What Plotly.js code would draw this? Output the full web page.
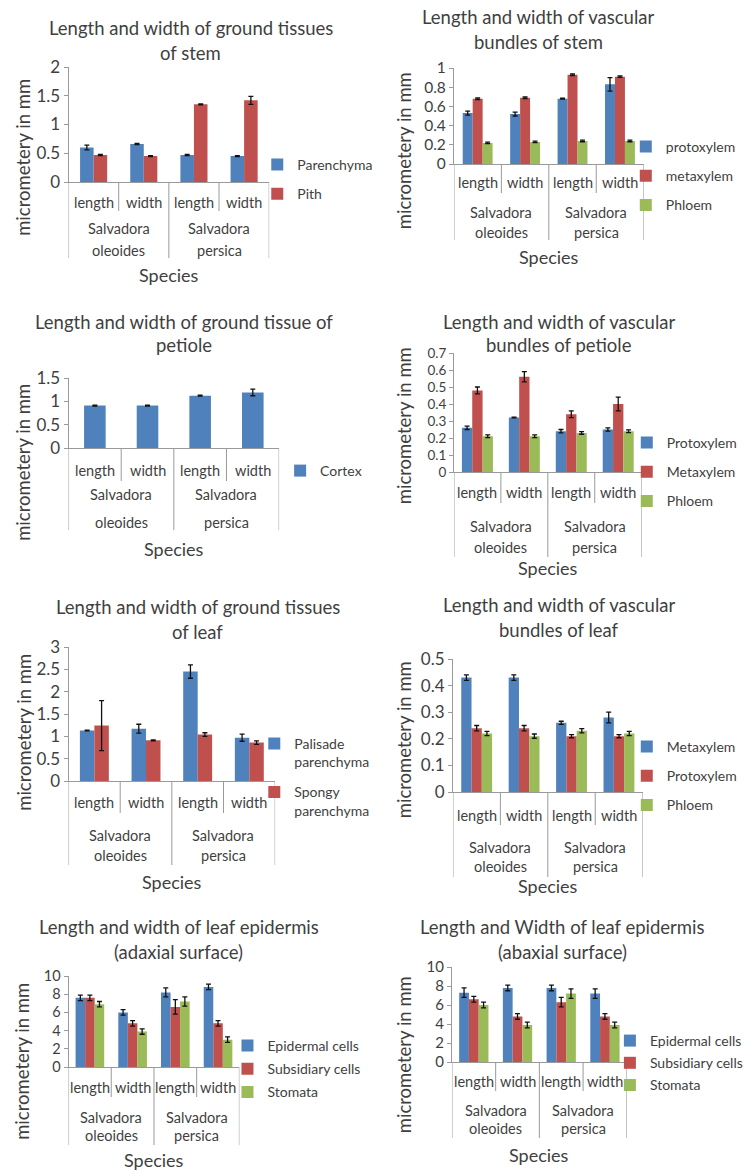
<!DOCTYPE html>
<html>
<head>
<meta charset="utf-8">
<script src="https://cdn.plot.ly/plotly-3.0.1.min.js"></script>
<style>html,body{margin:0;padding:0;background:#fff;}#chart{width:748px;height:1171px;}</style>
</head>
<body>
<div id="chart"></div>
<script>
// ---------- DATA ----------
const species = ["Salvadora oleoides", "Salvadora persica"];
const measures = ["length", "width"];

// 1. Ground tissues of stem
const stemParenchyma = [0.60, 0.66, 0.47, 0.45];
const stemParenchymaErr = [0.04, 0.01, 0.01, 0.01];
const stemPith = [0.47, 0.45, 1.35, 1.42];
const stemPithErr = [0.01, 0.01, 0.01, 0.07];

// 2. Vascular bundles of stem
const stemProtoxylem = [0.53, 0.52, 0.68, 0.83];
const stemProtoxylemErr = [0.02, 0.02, 0.005, 0.07];
const stemMetaxylem = [0.68, 0.69, 0.93, 0.91];
const stemMetaxylemErr = [0.008, 0.008, 0.008, 0.008];
const stemPhloem = [0.22, 0.23, 0.24, 0.24];
const stemPhloemErr = [0.008, 0.008, 0.008, 0.008];

// 3. Ground tissue of petiole
const petioleCortex = [0.91, 0.91, 1.12, 1.19];
const petioleCortexErr = [0.01, 0.01, 0.01, 0.07];

// 4. Vascular bundles of petiole
const petioleProtoxylem = [0.26, 0.32, 0.24, 0.25];
const petioleProtoxylemErr = [0.01, 0.002, 0.01, 0.01];
const petioleMetaxylem = [0.48, 0.56, 0.34, 0.40];
const petioleMetaxylemErr = [0.02, 0.03, 0.02, 0.04];
const petiolePhloem = [0.21, 0.21, 0.23, 0.24];
const petiolePhloemErr = [0.008, 0.008, 0.008, 0.008];

// 5. Ground tissues of leaf
const leafPalisade = [1.13, 1.17, 2.45, 0.97];
const leafPalisadeErr = [0.01, 0.10, 0.15, 0.08];
const leafSpongy = [1.24, 0.91, 1.04, 0.86];
const leafSpongyErr = [0.56, 0.01, 0.04, 0.04];

// 6. Vascular bundles of leaf
const leafMetaxylem = [0.43, 0.43, 0.26, 0.28];
const leafMetaxylemErr = [0.01, 0.01, 0.006, 0.02];
const leafProtoxylem = [0.24, 0.24, 0.21, 0.21];
const leafProtoxylemErr = [0.01, 0.01, 0.006, 0.006];
const leafPhloem = [0.22, 0.21, 0.23, 0.22];
const leafPhloemErr = [0.008, 0.008, 0.008, 0.008];

// 7. Leaf epidermis (adaxial)
const adaxEpidermal = [7.6, 6.0, 8.2, 8.8];
const adaxEpidermalErr = [0.3, 0.3, 0.5, 0.3];
const adaxSubsidiary = [7.6, 4.8, 6.6, 4.8];
const adaxSubsidiaryErr = [0.3, 0.3, 0.8, 0.3];
const adaxStomata = [6.9, 3.9, 7.2, 3.0];
const adaxStomataErr = [0.3, 0.3, 0.5, 0.3];

// 8. Leaf epidermis (abaxial)
const abaxEpidermal = [7.3, 7.8, 7.8, 7.2];
const abaxEpidermalErr = [0.5, 0.3, 0.3, 0.5];
const abaxSubsidiary = [6.6, 4.8, 6.3, 4.8];
const abaxSubsidiaryErr = [0.3, 0.3, 0.5, 0.3];
const abaxStomata = [6.0, 3.9, 7.2, 3.9];
const abaxStomataErr = [0.3, 0.3, 0.5, 0.3];

// ---------- STYLE ----------
const BLUE = '#4F81BD', RED = '#C0504D', GREEN = '#9BBB59';
const TXT = '#3f3f3f', AX = '#9a9a9a';
const FONT = 'Lato, "Open Sans", sans-serif';
const W = 748, H = 1171;
const px = p => p / W, py = p => 1 - p / H;

// pixel layout of each panel (style only)
const boxes = [
  {l:69, r:271, top:67, zero:182, cat:202, g1:229, g2:250, short:211, bottom:258, sp:275, t1:28, t2:53, tx:192, ytx:23, yty:157, lgx:299, lgy:164, lgap:8, gw:0.54, tf:17},
  {l:457, r:648, top:68, zero:164, cat:183, g1:213, g2:232, short:193, bottom:240, sp:257, t1:17, t2:42, tx:542, ytx:407, yty:151, lgx:670, lgy:146, lgap:8, gw:0.63, tf:15.5},
  {l:69, r:281, top:378, zero:448, cat:470, g1:494, g2:522, short:481, bottom:530, sp:549, t1:322, t2:345, tx:185, ytx:23, yty:462, lgx:322, lgy:470, lgap:8, gw:0.41, tf:17},
  {l:457, r:646, top:353, zero:472, cat:493, g1:527, g2:547, short:503, bottom:557, sp:568, t1:322, t2:345, tx:563, ytx:407, yty:426, lgx:671, lgy:442, lgap:8, gw:0.66, tf:13.5},
  {l:69, r:277, top:647, zero:781, cat:802, g1:835, g2:855, short:813, bottom:865, sp:882, t1:607, t2:632, tx:199, ytx:24, yty:732, lgx:296, lgy:743, lgap:9, gw:0.56, tf:17},
  {l:456, r:647, top:659, zero:792, cat:815, g1:847, g2:867, short:825, bottom:877, sp:886, t1:605, t2:630, tx:563, ytx:407, yty:740, lgx:671, lgy:746, lgap:8, gw:0.65, tf:17},
  {l:69, r:241, top:976, zero:1067, cat:1087, g1:1117, g2:1135, short:1097, bottom:1145, sp:1160, t1:927, t2:952, tx:180, ytx:22, yty:1061, lgx:269, lgy:1045, lgap:2, gw:0.67, tf:14.5},
  {l:455, r:631, top:967, zero:1062, cat:1081, g1:1110, g2:1128, short:1091, bottom:1138, sp:1155, t1:927, t2:952, tx:566, ytx:407, yty:1055, lgx:654, lgy:1040, lgap:1, gw:0.67, tf:15}
];

const panels = [
  {title:["Length and width of ground tissues","of stem"], ymax:2, dtick:0.5,
   series:[["Parenchyma", stemParenchyma, stemParenchymaErr, BLUE], ["Pith", stemPith, stemPithErr, RED]]},
  {title:["Length and width of vascular","bundles of stem"], ymax:1, dtick:0.2,
   series:[["protoxylem", stemProtoxylem, stemProtoxylemErr, BLUE], ["metaxylem", stemMetaxylem, stemMetaxylemErr, RED], ["Phloem", stemPhloem, stemPhloemErr, GREEN]]},
  {title:["Length and width of ground tissue of","petiole"], ymax:1.5, dtick:0.5,
   series:[["Cortex", petioleCortex, petioleCortexErr, BLUE]]},
  {title:["Length and width of vascular","bundles of petiole"], ymax:0.7, dtick:0.1,
   series:[["Protoxylem", petioleProtoxylem, petioleProtoxylemErr, BLUE], ["Metaxylem", petioleMetaxylem, petioleMetaxylemErr, RED], ["Phloem", petiolePhloem, petiolePhloemErr, GREEN]]},
  {title:["Length and width of ground tissues","of leaf"], ymax:3, dtick:0.5,
   series:[["Palisade<br>parenchyma", leafPalisade, leafPalisadeErr, BLUE], ["Spongy<br>parenchyma", leafSpongy, leafSpongyErr, RED]]},
  {title:["Length and width of vascular","bundles of leaf"], ymax:0.5, dtick:0.1,
   series:[["Metaxylem", leafMetaxylem, leafMetaxylemErr, BLUE], ["Protoxylem", leafProtoxylem, leafProtoxylemErr, RED], ["Phloem", leafPhloem, leafPhloemErr, GREEN]]},
  {title:["Length and width of leaf epidermis","(adaxial surface)"], ymax:10, dtick:2,
   series:[["Epidermal cells", adaxEpidermal, adaxEpidermalErr, BLUE], ["Subsidiary cells", adaxSubsidiary, adaxSubsidiaryErr, RED], ["Stomata", adaxStomata, adaxStomataErr, GREEN]]},
  {title:["Length and Width of leaf epidermis","(abaxial surface)"], ymax:10, dtick:2,
   series:[["Epidermal cells", abaxEpidermal, abaxEpidermalErr, BLUE], ["Subsidiary cells", abaxSubsidiary, abaxSubsidiaryErr, RED], ["Stomata", abaxStomata, abaxStomataErr, GREEN]]}
];

// category keys (one per bar cluster)
const xcats = [];
species.forEach(s => measures.forEach(m => xcats.push(s + " | " + m)));

const data = [];
const layout = {
  width: W, height: H, margin: {l:0, r:0, t:0, b:0},
  paper_bgcolor: '#fff', plot_bgcolor: 'rgba(0,0,0,0)',
  font: {family: FONT, color: TXT},
  barmode: 'overlay', showlegend: true,
  shapes: [], annotations: []
};

panels.forEach((p, i) => {
  const k = i + 1, b = boxes[i];
  const xa = 'x' + (k > 1 ? k : ''), ya = 'y' + (k > 1 ? k : '');
  const lg = 'legend' + (k > 1 ? k : '');
  const n = p.series.length, w = b.gw / n;
  p.series.forEach((s, j) => {
    data.push({
      type: 'bar', name: s[0], x: xcats, y: s[1],
      error_y: {type: 'data', array: s[2], visible: true, color: '#111', thickness: 1.3, width: 2.5},
      marker: {color: s[3], line: {width: 0}},
      width: w, offset: -b.gw / 2 + j * w,
      xaxis: xa, yaxis: ya, legend: lg, legendgroup: lg + '_' + j,
      hoverinfo: 'y'
    });
  });
  layout['xaxis' + (k > 1 ? k : '')] = {
    domain: [px(b.l), px(b.r)], anchor: ya, type: 'category',
    categoryorder: 'array', categoryarray: xcats, range: [-0.5, 3.5],
    showticklabels: false, ticks: '', showgrid: false, zeroline: false,
    showline: true, linecolor: AX, linewidth: 1, fixedrange: true
  };
  layout['yaxis' + (k > 1 ? k : '')] = {
    domain: [py(b.zero), py(b.top)], anchor: xa, range: [0, p.ymax], dtick: p.dtick, tick0: 0,
    showgrid: false, zeroline: false, showline: true, linecolor: AX, linewidth: 1,
    ticks: 'outside', ticklen: 4, tickcolor: AX, tickfont: {size: b.tf, color: TXT, family: FONT},
    fixedrange: true
  };
  layout[lg] = {
    x: px(b.lgx - 40), y: py(b.lgy - 15), xanchor: 'left', yanchor: 'top',
    bgcolor: 'rgba(0,0,0,0)', borderwidth: 0, font: {size: 14, color: TXT, family: FONT},
    tracegroupgap: b.lgap, traceorder: 'grouped', valign: 'top'
  };
  // category frame
  [-0.5, 1.5, 3.5].forEach(xv => layout.shapes.push({type: 'line', xref: xa, yref: 'paper', x0: xv, x1: xv, y0: py(b.zero), y1: py(b.bottom), line: {color: AX, width: 1}}));
  [0.5, 2.5].forEach(xv => layout.shapes.push({type: 'line', xref: xa, yref: 'paper', x0: xv, x1: xv, y0: py(b.zero), y1: py(b.short), line: {color: AX, width: 1}}));
  // category labels
  xcats.forEach((c, ci) => layout.annotations.push({xref: xa, yref: 'paper', x: ci, y: py(b.cat), text: measures[ci % 2], showarrow: false, xanchor: 'center', yanchor: 'middle', font: {size: 14.5, color: TXT}}));
  species.forEach((s, si) => {
    const parts = s.split(' ');
    layout.annotations.push({xref: xa, yref: 'paper', x: si * 2 + 0.5, y: py(b.g1), text: parts[0], showarrow: false, yanchor: 'middle', font: {size: 14.5, color: TXT}});
    layout.annotations.push({xref: xa, yref: 'paper', x: si * 2 + 0.5, y: py(b.g2), text: parts.slice(1).join(' '), showarrow: false, yanchor: 'middle', font: {size: 14.5, color: TXT}});
  });
  // axis titles
  layout.annotations.push({xref: xa, yref: 'paper', x: 1.5, y: py(b.sp), text: 'Species', showarrow: false, yanchor: 'middle', font: {size: 18, color: TXT}});
  layout.annotations.push({xref: 'paper', yref: 'paper', x: px(b.ytx), y: py(b.yty), text: 'micrometery in mm', textangle: -90, showarrow: false, xanchor: 'center', yanchor: 'middle', font: {size: 18.5, color: TXT}});
  // chart title (two lines)
  layout.annotations.push({xref: 'paper', yref: 'paper', x: px(b.tx), y: py(b.t1), text: p.title[0], showarrow: false, xanchor: 'center', yanchor: 'middle', font: {size: 18.5, color: TXT}});
  layout.annotations.push({xref: 'paper', yref: 'paper', x: px(b.tx), y: py(b.t2), text: p.title[1], showarrow: false, xanchor: 'center', yanchor: 'middle', font: {size: 18.5, color: TXT}});
});

Plotly.newPlot('chart', data, layout, {displayModeBar: false, staticPlot: true});
</script>
</body>
</html>
